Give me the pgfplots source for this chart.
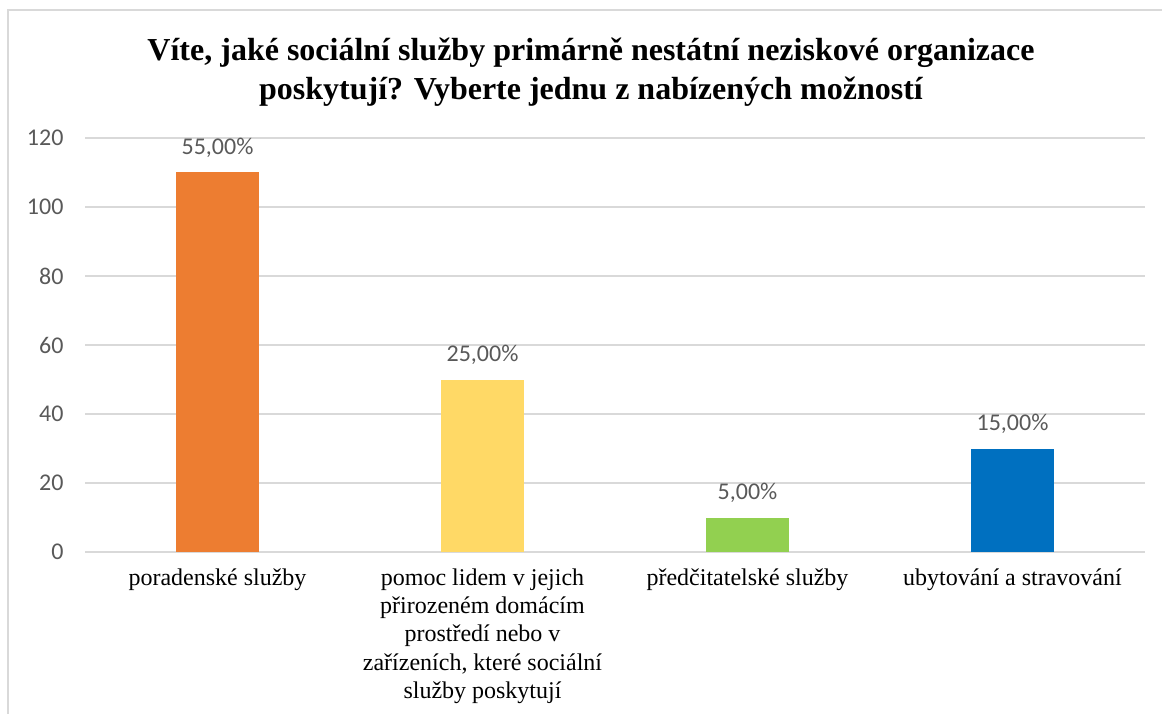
\documentclass[border=0pt]{standalone}
\usepackage{pgfplots}
\pgfplotsset{compat=1.18}
\usepackage{fontspec}
\setmainfont{Liberation Serif}
\newfontfamily\tnr{Liberation Serif}
\newfontfamily\carlito{Carlito}
\definecolor{gridc}{HTML}{D9D9D9}
\definecolor{tickc}{HTML}{595959}
\definecolor{c1}{HTML}{ED7D31}
\definecolor{c2}{HTML}{FFD966}
\definecolor{c3}{HTML}{92D050}
\definecolor{c4}{HTML}{0070C0}
\begin{document}
\begin{tikzpicture}[x=1pt,y=1pt]
\useasboundingbox (0,0) rectangle (1162,713);
\begin{scope}
\clip (0,0) rectangle (1162,713);
\draw[gridc,line width=1.5pt] (8,-5) -- (8,703) -- (1170,703);
\end{scope}
\node[align=center,font=\tnr\fontsize{32}{38.5}\selectfont\bfseries] at (591,641)
  {Víte, jaké sociální služby primárně nestátní neziskové organizace\\poskytují? Vyberte jednu z nabízených možností};
\begin{axis}[
  at={(85pt,161pt)}, anchor=south west,
  scale only axis, width=1060pt, height=414pt,
  xmin=-0.5, xmax=3.5, ymin=0, ymax=120,
  ytick={0,20,...,120},
  xtick={0,1,2,3},
  xticklabels={{poradenské služby},{pomoc lidem v jejich\\přirozeném domácím\\prostředí nebo v\\zařízeních, které sociální\\služby poskytují},{předčitatelské služby},{ubytování a stravování}},
  xticklabel style={align=center,font=\tnr\fontsize{24}{28.3}\selectfont,text=black,yshift=-13pt},
  yticklabel style={font=\carlito\fontsize{24}{28}\selectfont,text=tickc,xshift=-18pt},
  /pgf/number format/assume math mode=true,
  major tick length=0pt,
  axis line style={draw=none},
  ymajorgrids, grid style={gridc,line width=1.2pt},
  ybar, bar width=83pt, bar shift=0pt,
  nodes near coords, point meta=explicit symbolic,
  every node near coord/.append style={font=\carlito\fontsize{24}{28}\selectfont,text=tickc,yshift=11pt},
]
\addplot[fill=c1,draw=none] table[meta=l] {
x y l
0 110 55,00\%
};
\addplot[fill=c2,draw=none] table[meta=l] {
x y l
1 50 25,00\%
};
\addplot[fill=c3,draw=none] table[meta=l] {
x y l
2 10 5,00\%
};
\addplot[fill=c4,draw=none] table[meta=l] {
x y l
3 30 15,00\%
};
\end{axis}
\end{tikzpicture}
\end{document}
